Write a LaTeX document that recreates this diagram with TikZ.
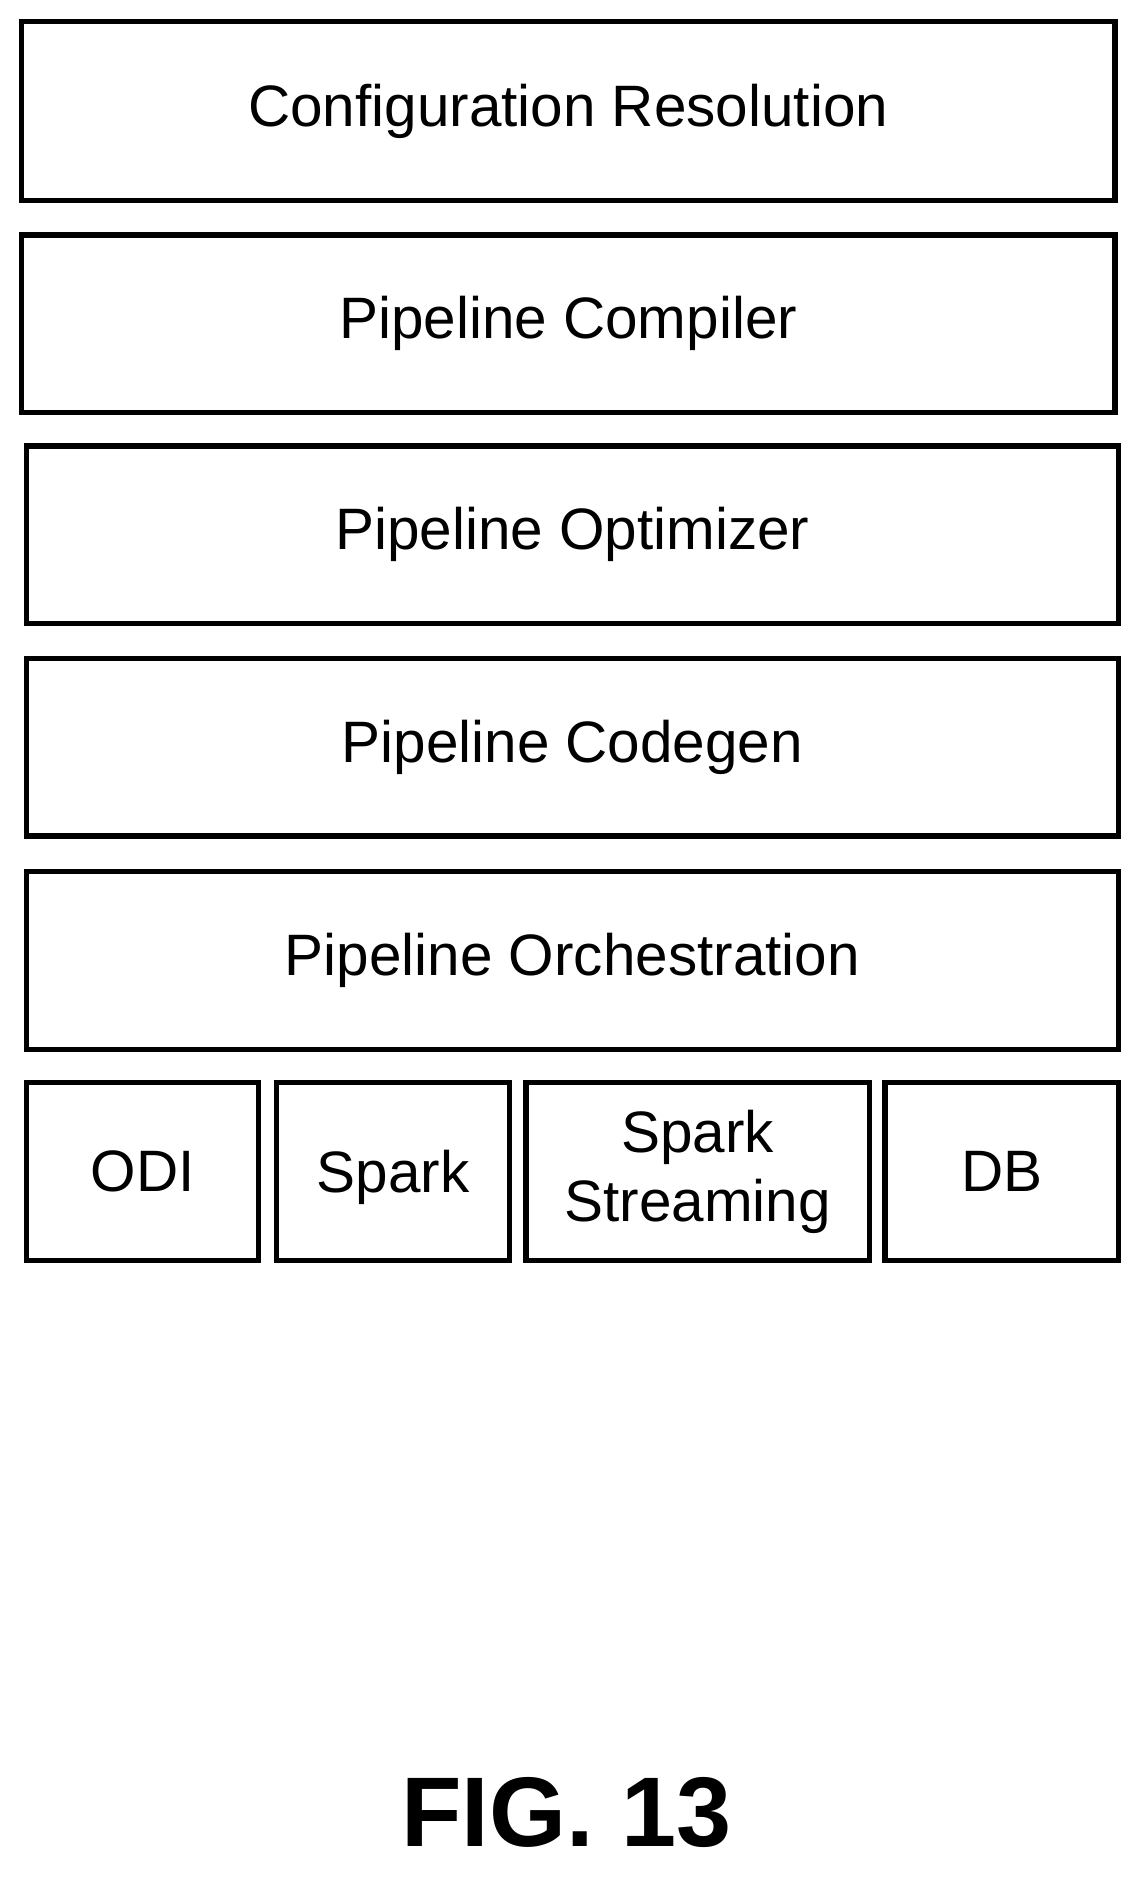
\documentclass[tikz,border=0pt]{standalone}
\usepackage{fontspec}
\setmainfont{Liberation Sans}
\begin{document}
\begin{tikzpicture}[x=1pt,y=-1pt,
  box/.style={draw,line width=4.5pt,inner sep=0pt,font=\fontsize{49}{58}\selectfont,align=center}]
\useasboundingbox (0,0) rectangle (960,1574);
\newcommand\bx[6]{\node[box,minimum width=#4-#2,minimum height=#5-#3] (#1) at ({(#2+#4)/2},{(#3+#5)/2}) {#6};}
\bx{cr}{18}{18}{935}{168}{Configuration Resolution}
\bx{pc}{18}{197}{935}{346}{Pipeline Compiler}
\bx{po}{22}{374}{938}{523}{Pipeline Optimizer}
\bx{pg}{22}{552}{938}{701}{Pipeline Codegen}
\bx{pr}{22}{731}{938}{880}{Pipeline Orchestration}
\bx{odi}{22}{908}{217}{1057}{ODI}
\node[box,text depth=0pt,minimum width=195,minimum height=149] (sp) at (329.5,982.5) {Spark};
\bx{ss}{441}{908}{729}{1057}{Spark\\Streaming}
\bx{db}{742}{908}{938}{1057}{DB}
\node[font=\fontsize{83}{90}\selectfont\bfseries] (fig) at (475,1520) {FIG. 13};
\end{tikzpicture}
\end{document}
